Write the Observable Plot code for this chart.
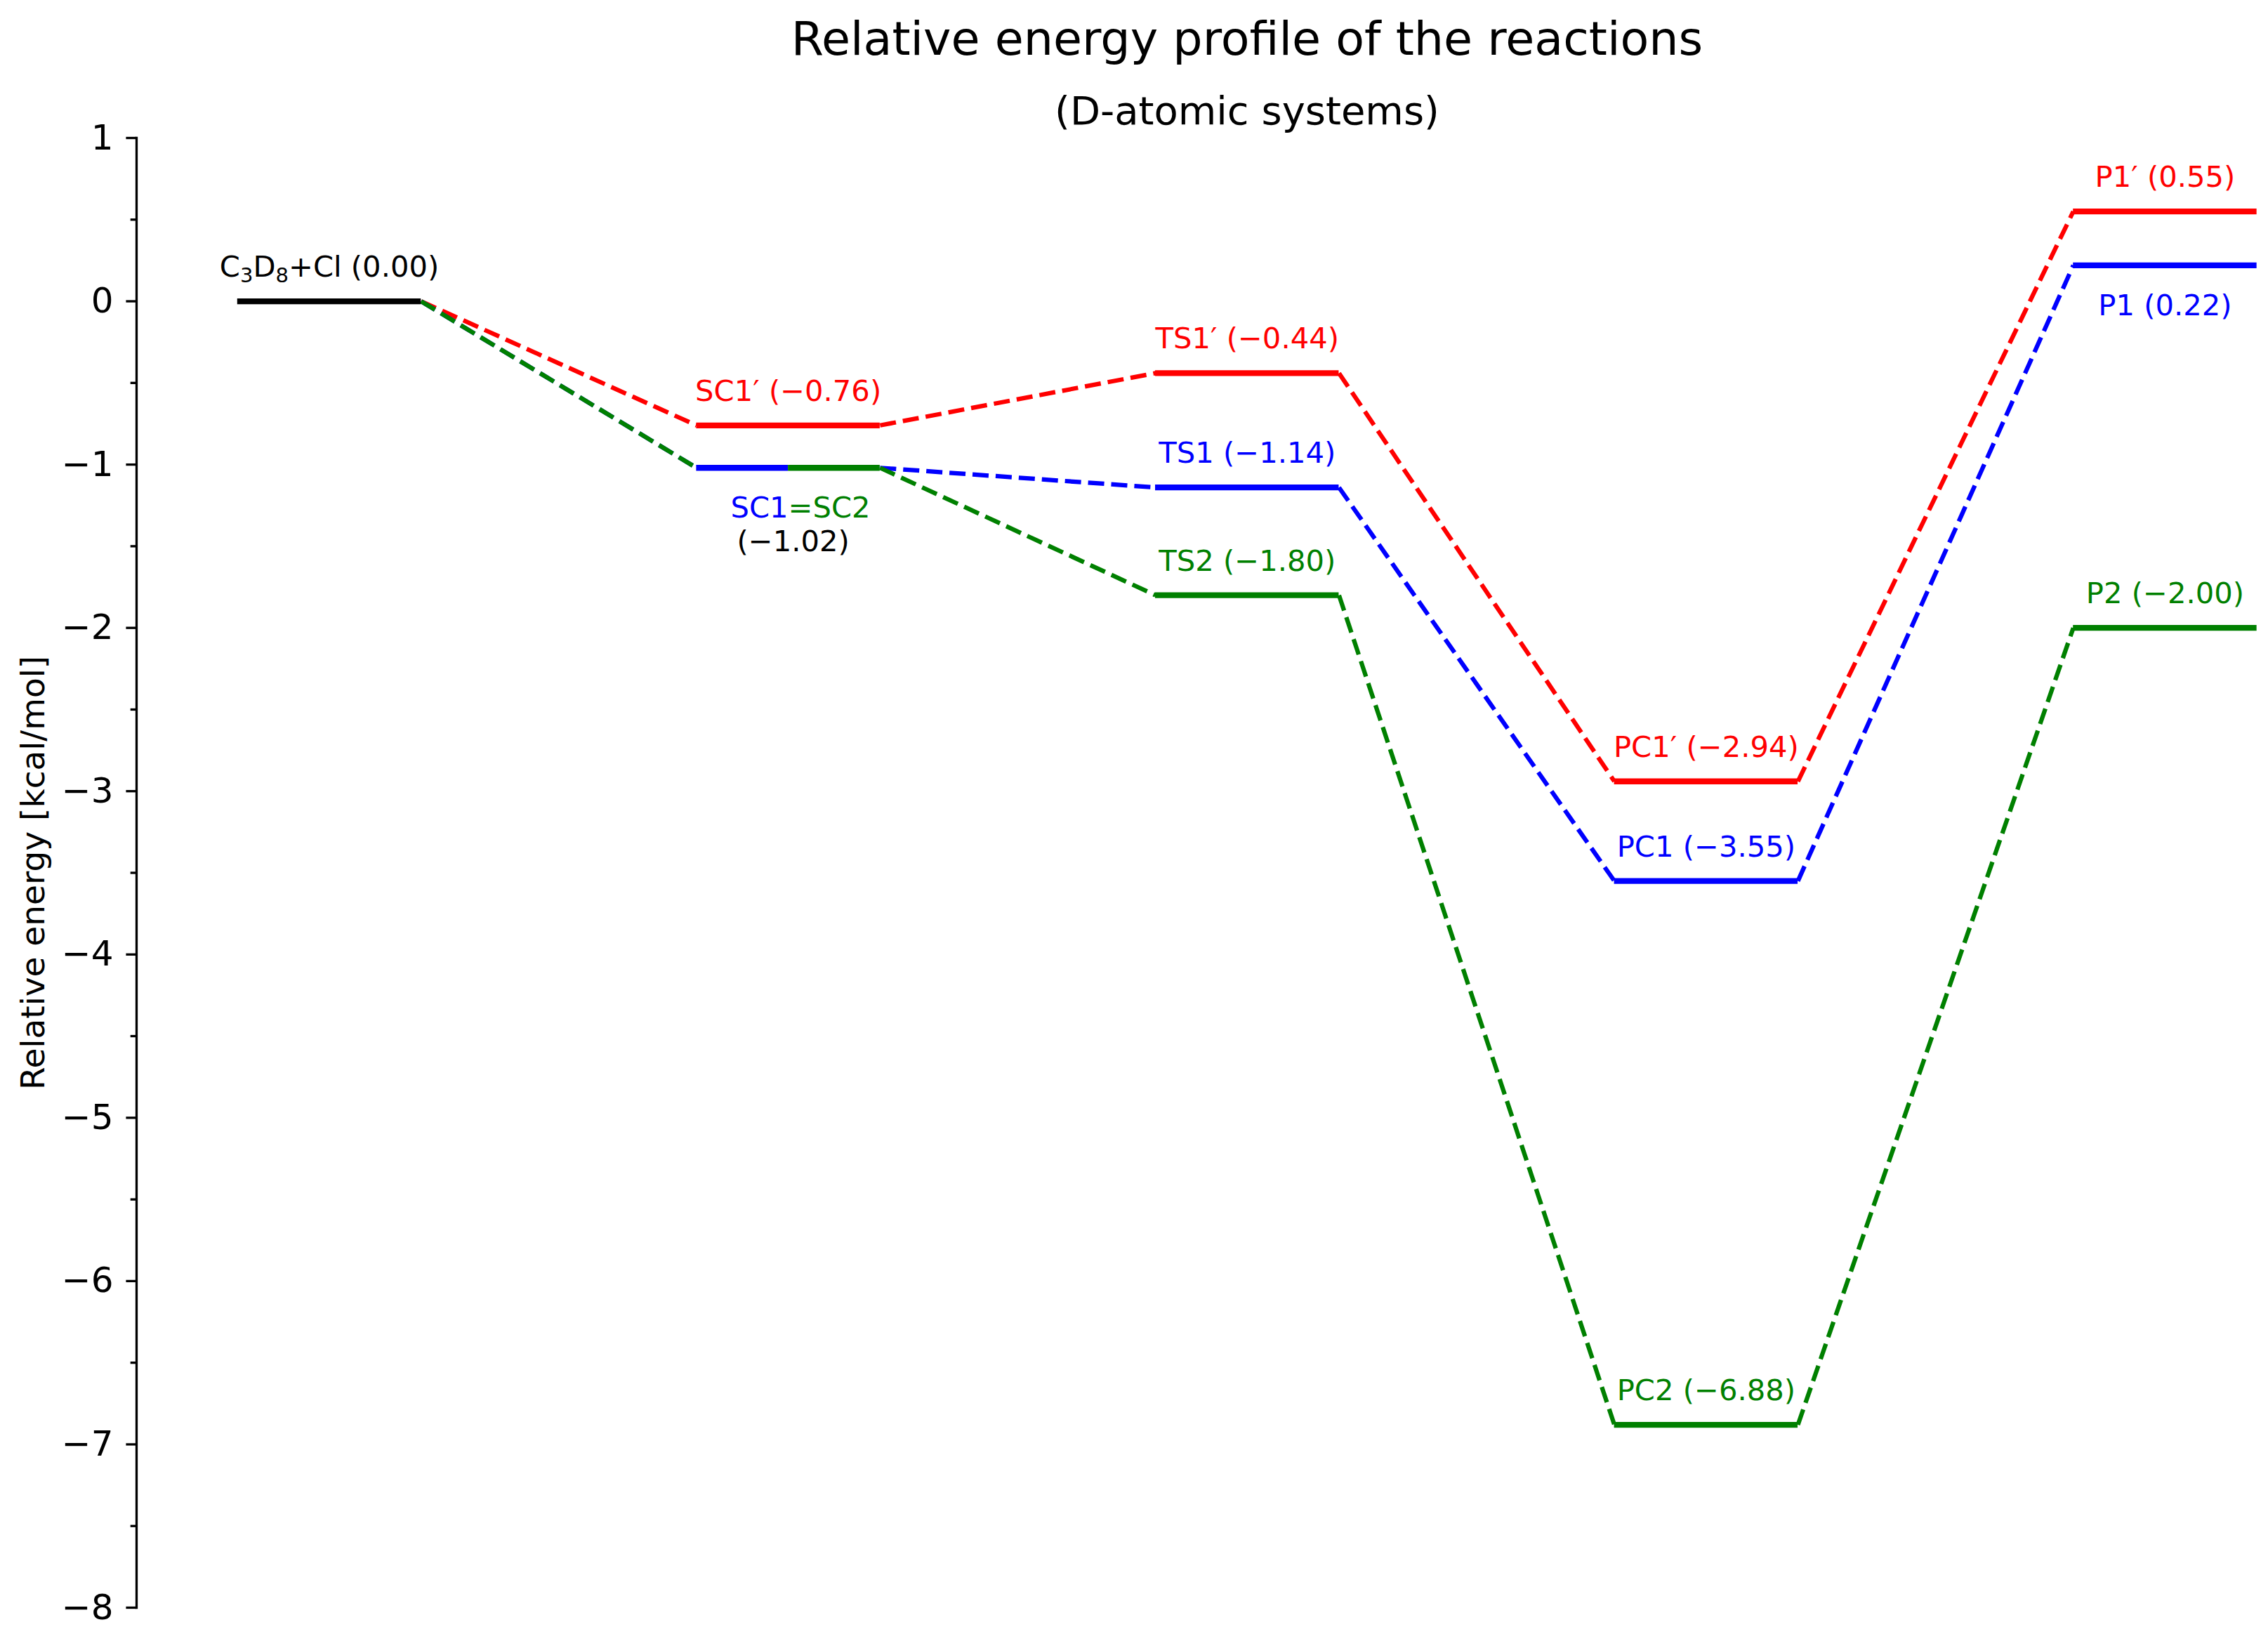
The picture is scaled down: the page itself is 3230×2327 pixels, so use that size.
<!DOCTYPE html>
<html><head><meta charset="utf-8">
<script src="https://cdn.jsdelivr.net/npm/d3@7"></script>
<script src="https://cdn.jsdelivr.net/npm/@observablehq/plot@0.6"></script>
<style>
html,body{margin:0;padding:0;background:#fff;}
#wrap{position:relative;width:3230px;height:2327px;overflow:hidden;font-family:"DejaVu Sans",sans-serif;color:#000;background:#fff;}
#title{position:absolute;left:0;width:3552px;top:22px;text-align:center;font-size:66.7px;line-height:1;white-space:nowrap;z-index:2;}
#subtitle{position:absolute;left:0;width:3552px;top:130px;text-align:center;font-size:56px;line-height:1;white-space:nowrap;z-index:2;}
#chart{position:absolute;left:0;top:170px;z-index:1;}
</style></head><body>
<div id="wrap">
  <div id="title">Relative energy profile of the reactions</div>
  <div id="subtitle">(D-atomic systems)</div>
  <div id="chart"></div>
</div>
<script>
// Reaction steps (x positions): reactant, stationary complex, transition state, product complex, products
const stepNames = ["R", "SC", "TS", "PC", "P"];
const reactantName = "C3D8+Cl";
const redValues   = [0.00, -0.76, -0.44, -2.94, 0.55];
const blueValues  = [0.00, -1.02, -1.14, -3.55, 0.22];
const greenValues = [0.00, -1.02, -1.80, -6.88, -2.00];
const redNames   = [reactantName, "SC1′", "TS1′", "PC1′", "P1′"];
const blueNames  = [reactantName, "SC1", "TS1", "PC1", "P1"];
const greenNames = [reactantName, "SC2", "TS2", "PC2", "P2"];
const yMajorTicks = [-8, -7, -6, -5, -4, -3, -2, -1, 0, 1];
const yMinorTicks = [-7.5, -6.5, -5.5, -4.5, -3.5, -2.5, -1.5, -0.5, 0.5];
const yLabel = "Relative energy [kcal/mol]";

const half = 0.2; // half width of an energy level, in step units
const fmt = v => (v < 0 ? "\u2212" : "") + Math.abs(v).toFixed(2);
const tickFmt = d => (d < 0 ? "\u2212" : "") + Math.abs(d);

const series = [
  {color: "red", values: redValues, names: redNames},
  {color: "blue", values: blueValues, names: blueNames},
  {color: "green", values: greenValues, names: greenNames}
];

// connectors (dashed)
const connectors = [];
for (const s of series) {
  for (let i = 0; i < s.values.length - 1; i++) {
    connectors.push({x1: i + half, y1: s.values[i], x2: i + 1 - half, y2: s.values[i + 1], color: s.color});
  }
}

// levels (solid)
const levels = [{x1: -half, x2: half, y: redValues[0], color: "black"}];
for (const s of series) {
  for (let i = 1; i < s.values.length; i++) {
    let x1 = i - half, x2 = i + half;
    if (i === 1 && s.color === "blue") x2 = i;
    if (i === 1 && s.color === "green") x1 = i;
    levels.push({x1, x2, y: s.values[i], color: s.color});
  }
}

// labels above levels
const above = [{x: 0, y: redValues[0], text: `${reactantName} (${fmt(redValues[0])})`, color: "black"}];
for (const s of series) {
  for (let i = 1; i < s.values.length; i++) {
    if (i === 1 && s.color !== "red") continue;
    if (i === 4 && s.color === "blue") continue;
    above.push({x: i, y: s.values[i], text: `${s.names[i]} (${fmt(s.values[i])})`, color: s.color});
  }
}
// labels below levels
const below = [{x: 4, y: blueValues[4], text: `${blueNames[4]} (${fmt(blueValues[4])})`, color: "blue"}];

const chart = Plot.plot({
  width: 3230,
  height: 2157,
  marginLeft: 194,
  marginRight: 0,
  marginTop: 26,
  marginBottom: 38,
  style: {fontFamily: "DejaVu Sans", fontSize: "41.7px", background: "transparent", overflow: "visible"},
  x: {domain: [-0.42, 4.225], axis: null},
  y: {domain: [-8, 1], axis: null},
  marks: [
    Plot.frame({anchor: "left", stroke: "black", strokeWidth: 3.3}),
    Plot.axisY(yMajorTicks, {anchor: "left", tickSize: 14.6, strokeWidth: 3.3, tickFormat: () => "", label: null}),
    Plot.axisY(yMinorTicks, {anchor: "left", tickSize: 8.3, strokeWidth: 3.3, tickFormat: () => "", label: null}),
    Plot.text(yMajorTicks, {y: d => d, frameAnchor: "left", dx: -33, textAnchor: "end", text: tickFmt, fontSize: 50, fill: "black"}),
    Plot.text([yLabel], {frameAnchor: "left", rotate: -90, dx: -132, lineAnchor: "bottom", textAnchor: "middle", fontSize: 47, fill: "black"}),
    Plot.link(connectors, {x1: "x1", y1: "y1", x2: "x2", y2: "y2", stroke: "color", strokeWidth: 6.25, strokeDasharray: "23,10", strokeLinecap: "butt"}),
    Plot.ruleY(levels, {x1: "x1", x2: "x2", y: "y", stroke: "color", strokeWidth: 8.3, strokeLinecap: "butt"}),
    Plot.text(above, {x: "x", y: "y", text: "text", fill: "color", lineAnchor: "bottom", dy: -35, fontSize: 41.7}),
    Plot.text(below, {x: "x", y: "y", text: "text", fill: "color", lineAnchor: "bottom", dy: 71, fontSize: 41.7}),
    Plot.text([{x: 1, y: blueValues[1]}], {x: "x", y: "y", text: () => blueNames[1], fill: "blue", textAnchor: "end", lineAnchor: "bottom", dy: 71, fontSize: 41.7}),
    Plot.text([{x: 1, y: greenValues[1]}], {x: "x", y: "y", text: () => "=" + greenNames[1], fill: "green", textAnchor: "start", lineAnchor: "bottom", dy: 71, fontSize: 41.7}),
    Plot.text([{x: 1, y: blueValues[1]}], {x: "x", y: "y", text: d => `(${fmt(d.y)})`, fill: "black", lineAnchor: "bottom", dy: 119, dx: 7, fontSize: 41.7})
  ]
});
document.getElementById("chart").appendChild(chart);

// typeset chemical subscripts (C3D8 -> C₃D₈ with true subscripts)
d3.select(chart).selectAll("text").each(function () {
  const t = this.textContent;
  if (!t.startsWith(reactantName)) return;
  const rest = t.slice(reactantName.length);
  const el = d3.select(this);
  el.text(null);
  const parts = [["C", false], ["3", true], ["D", false], ["8", true], ["+Cl" + rest, false]];
  let shifted = false;
  parts.forEach(([s, sub]) => {
    const ts = el.append("tspan").text(s);
    if (sub) { ts.attr("font-size", 29).attr("dy", 8); shifted = true; }
    else if (shifted) { ts.attr("dy", -8); shifted = false; }
  });
});
</script>
</body></html>
